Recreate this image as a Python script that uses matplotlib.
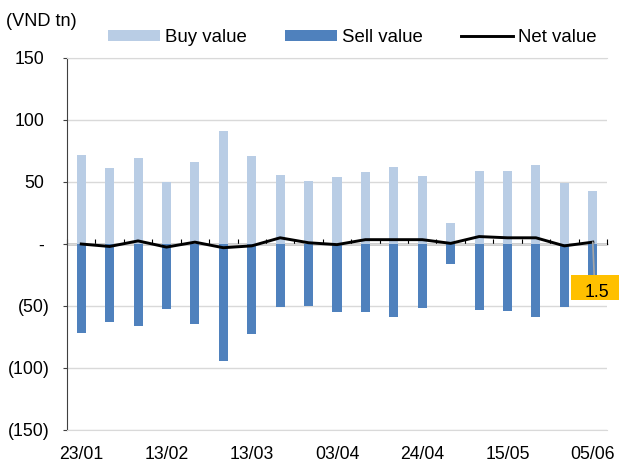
import matplotlib
matplotlib.use("Agg")
import matplotlib.pyplot as plt
import matplotlib.transforms as mtransforms
from matplotlib.patches import Rectangle
import numpy as np

plt.rcParams['font.family'] = ['Liberation Sans', 'DejaVu Sans']
plt.rcParams['font.size'] = 12.7

# weekly foreign trading (VND tn)
weeks = ['23/01', '30/01', '06/02', '13/02', '20/02', '06/03', '13/03',
         '20/03', '27/03', '03/04', '10/04', '17/04', '24/04', '01/05',
         '08/05', '15/05', '22/05', '29/05', '05/06']
buy = [72, 61, 69, 50, 66, 91, 71, 56, 51, 54, 58, 62, 55, 17, 59, 59, 64, 49, 43]
sell = [-72, -63, -66.5, -52.5, -64.5, -94, -72.5, -51, -50, -54.5, -54.5,
        -58.5, -51.5, -16.5, -53, -54, -59, -50.5, -41.5]
net = [0, -2, 2.5, -2.5, 1.5, -3, -1.5, 5, 1, -0.5, 3.5, 3.5, 3.5, 0.5,
       6, 5, 5, -1.5, 1.5]
yticks = [-150, -100, -50, 0, 50, 100, 150]
ylabels = ['(150)', '(100)', '(50)', '-', '50', '100', '150']

c_buy = '#b9cde5'
c_sell = '#4f81bd'
c_grid = '#d9d9d9'

fig = plt.figure(figsize=(6.19, 4.63), dpi=100)
ax = fig.add_axes([67/619, 33/463, 540/619, 372/463])

x = np.arange(len(weeks))
b1 = ax.bar(x, buy, width=0.32, color=c_buy, label='Buy value', zorder=2)
b2 = ax.bar(x, sell, width=0.32, color=c_sell, label='Sell value', zorder=2)
l1, = ax.plot(x, net, color='black', lw=2.1, label='Net value', zorder=4)

ax.set_xlim(-0.5, len(weeks) - 0.5)
ax.set_ylim(-150, 150)
ax.set_yticks(yticks, ylabels)
ax.yaxis.grid(True, color=c_grid, lw=1)
ax.set_axisbelow(True)

ax.set_xticks(x[::3], [weeks[i] for i in x[::3]])
ax.tick_params(axis='x', length=0, pad=11.5)
ax.tick_params(axis='y', length=3, color='#404040', direction='out')
for t, v in zip(ax.yaxis.get_major_ticks(), yticks):
    t.set_pad(9.4 if v < 0 else 13.5)

ax.spines['right'].set_visible(False)
ax.spines['top'].set_color(c_grid)
ax.spines['bottom'].set_color(c_grid)
ax.spines['left'].set_color('#404040')

# zero axis with category-boundary ticks
zero = ax.secondary_xaxis(0.5)
zero.set_xticks(np.arange(-0.5, len(weeks)))
zero.tick_params(direction='out', length=3.6, width=0.8, color='black',
                 labeltop=False, labelbottom=False)
for s in zero.spines.values():
    s.set_color('black')
    s.set_linewidth(1)

# data label for the last net value (offsets in points from the point)
pt = mtransforms.Affine2D().scale(fig.dpi / 72) + \
    mtransforms.ScaledTranslation(x[-1], net[-1], ax.transData)
ax.add_patch(Rectangle((-15.8, -41.8), 34.5, 18.0, transform=pt,
                       fc='#ffc000', ec='none', clip_on=False, zorder=6))
ax.annotate('', xy=(x[-1], net[-1]), xytext=(1.0, -23.8),
            textcoords='offset points',
            arrowprops=dict(arrowstyle='-', color='#a6a6a6', lw=1.2,
                            shrinkA=0, shrinkB=0),
            annotation_clip=False, zorder=5)
ax.annotate(f'{net[-1]}', xy=(x[-1], net[-1]), xytext=(3.2, -39.6),
            textcoords='offset points', ha='center', va='baseline',
            annotation_clip=False, zorder=7)

fig.legend(handles=[b1, b2, l1], loc='center', bbox_to_anchor=(352.5/619, 0.918),
           ncol=3, frameon=False, fontsize=13.4, handlelength=2.8,
           handleheight=0.55, handletextpad=0.27, columnspacing=2.05,
           borderpad=0, borderaxespad=0)

fig.text(6/619, 1 - 21/463, '(VND tn)', ha='left', va='center', fontsize=13.1)

fig.savefig('out.png', dpi=100)
